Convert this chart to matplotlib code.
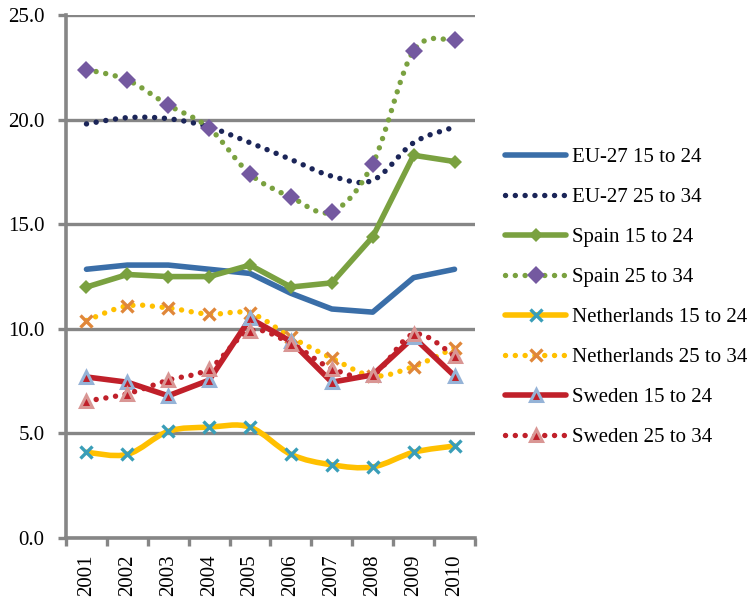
import matplotlib
matplotlib.use("Agg")
import matplotlib.pyplot as plt
import numpy as np
from matplotlib.path import Path
from matplotlib.patches import PathPatch
from matplotlib.lines import Line2D

years = ["2001", "2002", "2003", "2004", "2005", "2006", "2007", "2008", "2009", "2010"]

eu_15_24 = [12.85, 13.05, 13.05, 12.85, 12.65, 11.7, 10.95, 10.8, 12.45, 12.85]
eu_25_34 = [19.8, 20.1, 20.05, 19.65, 18.9, 18.1, 17.3, 17.1, 18.9, 19.65]
es_15_24 = [12.0, 12.6, 12.5, 12.5, 13.05, 12.0, 12.2, 14.4, 18.3, 18.0]
es_25_34 = [22.4, 21.9, 20.7, 19.6, 17.4, 16.3, 15.6, 17.9, 23.3, 23.8]
nl_15_24 = [4.1, 4.0, 5.1, 5.3, 5.3, 4.0, 3.5, 3.4, 4.1, 4.4]
nl_25_34 = [10.4, 11.1, 11.0, 10.7, 10.75, 9.6, 8.6, 7.75, 8.2, 9.1]
se_15_24 = [7.7, 7.45, 6.8, 7.55, 10.5, 9.4, 7.45, 7.8, 9.6, 7.75]
se_25_34 = [6.55, 6.9, 7.55, 8.1, 9.9, 9.3, 8.1, 7.8, 9.75, 8.7]

labels = ["EU-27 15 to 24", "EU-27 25 to 34", "Spain 15 to 24", "Spain 25 to 34",
          "Netherlands 15 to 24", "Netherlands 25 to 34", "Sweden 15 to 24", "Sweden 25 to 34"]

plt.rcParams['font.family'] = ['Liberation Serif', 'DejaVu Serif']

fig = plt.figure(figsize=(7.52, 6.01), dpi=100)
ax = fig.add_axes([0.0878, 0.1048, 0.5438, 0.870])

x = np.arange(len(years))
grey = "#868686"

def smooth_path(xs, ys):
    pts = np.column_stack([xs, ys]).astype(float)
    n = len(pts)
    verts = [pts[0]]
    codes = [Path.MOVETO]
    for i in range(n - 1):
        p0 = pts[i - 1] if i > 0 else pts[i]
        p1 = pts[i]
        p2 = pts[i + 1]
        p3 = pts[i + 2] if i + 2 < n else pts[i + 1]
        c1 = p1 + (p2 - p0) / 6.0
        c2 = p2 - (p3 - p1) / 6.0
        verts += [c1, c2, p2]
        codes += [Path.CURVE4] * 3
    return Path(verts, codes)

dot = (0, (0.01, 1.8))
handles = []

def series(vals, color, lw, smooth, dotted, marker=None, ms=0, mfc=None, mec=None, mew=0, z=2):
    ls = dot if dotted else '-'
    if smooth:
        patch = PathPatch(smooth_path(x, vals), fill=False, edgecolor=color, lw=lw,
                          linestyle=ls, capstyle='round', joinstyle='round', zorder=z)
        ax.add_patch(patch)
    else:
        ax.plot(x, vals, color=color, lw=lw, linestyle=ls, solid_joinstyle='round',
                solid_capstyle='round', dash_capstyle='round', zorder=z)
    if marker:
        ax.plot(x, vals, linestyle='none', marker=marker, ms=ms, mfc=mfc, mec=mec,
                mew=mew, zorder=z + 0.1, clip_on=False)
    h = Line2D([], [], color=color, lw=lw, linestyle=ls, dash_capstyle='round',
               solid_capstyle='round', marker=marker if marker else None, ms=ms,
               mfc=mfc, mec=mec, mew=mew)
    handles.append(h)

series(eu_15_24, "#3A6EA8", 4.0, False, False, z=2)
series(eu_25_34, "#1B2558", 3.9, True, True, z=2.2)
series(es_15_24, "#7AA140", 4.0, False, False, marker='D', ms=7, mfc="#7AA140", mec="#7AA140", z=2.4)
series(es_25_34, "#7AA140", 3.9, True, True, marker='D', ms=9, mfc="#7459A0", mec="#7459A0", z=2.6)
series(nl_15_24, "#FFC000", 4.0, True, False, marker='x', ms=9, mec="#3A9EB8", mew=2.4, z=2.8)
series(nl_25_34, "#FFC000", 3.9, True, True, marker='x', ms=9, mec="#E0873A", mew=2.4, z=3.0)
series(se_15_24, "#C0202A", 4.0, False, False, marker='^', ms=9, mfc="#C0202A", mec="#95B3D7", mew=2.2, z=3.2)
series(se_25_34, "#C0202A", 3.9, True, True, marker='^', ms=9, mfc="#C0202A", mec="#D99694", mew=2.2, z=3.4)

ax.set_xlim(-0.5, 9.5)
ax.set_ylim(0, 25)
ax.set_yticks([0, 5, 10, 15, 20, 25])
ax.set_yticklabels(["0.0", "5.0", "10.0", "15.0", "20.0", "25.0"], fontsize=15)
ax.yaxis.grid(True, color=grey, lw=2.4)
ax.set_axisbelow(True)

ax.set_xticks(np.arange(-0.5, 10, 1.0))
ax.set_xticklabels([])
ax.set_xticks(x, minor=True)
ax.set_xticklabels(years, minor=True, rotation=90, fontsize=15)
ax.tick_params(axis='x', which='minor', length=0, pad=12)
ax.tick_params(axis='x', which='major', direction='out', length=6, width=2.4, color=grey)
ax.tick_params(axis='y', direction='out', length=5.5, width=2.4, color=grey, pad=10)

for s in ['top', 'right']:
    ax.spines[s].set_visible(False)
for s in ['left', 'bottom']:
    ax.spines[s].set_color(grey)
    ax.spines[s].set_linewidth(2.6)

fig.legend(handles, labels, loc='center left', bbox_to_anchor=(0.672, 0.505),
           frameon=False, fontsize=15, handlelength=2.9, labelspacing=0.98,
           handletextpad=0.3, borderaxespad=0, borderpad=0)

fig.savefig("out.png", dpi=100, facecolor='white')
